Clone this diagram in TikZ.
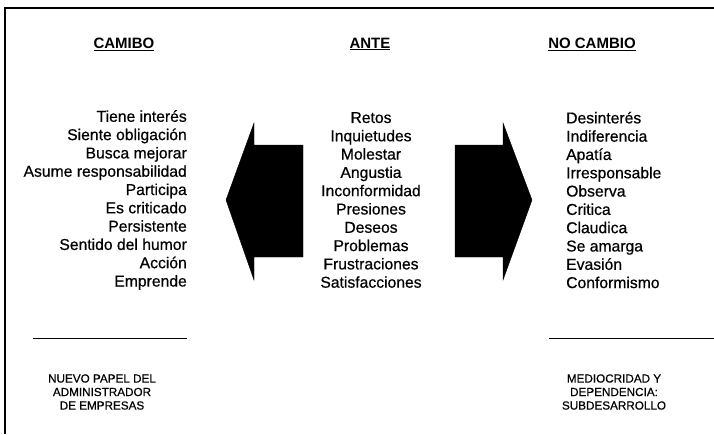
\documentclass[tikz,border=0pt]{standalone}
\usepackage{fontspec}
\setmainfont{Liberation Sans}
\newfontfamily\heavy{Liberation Sans}[FakeBold=0.6]
\begin{document}
\begin{tikzpicture}[x=1pt,y=-1pt,
  hdr/.style={font=\fontsize{15}{17}\selectfont\bfseries, inner sep=0pt},
  lst/.style={font=\heavy\fontsize{15.7}{18.3}\selectfont, inner sep=0pt},
  foot/.style={font=\heavy\fontsize{11.7}{13.5}\selectfont, align=center, inner sep=0pt},
  arr/.style={fill=black, draw=black},
  frame/.style={line width=1.2pt},
  rule/.style={line width=1pt}]
\useasboundingbox (0,0) rectangle (714,434);
% frame
\draw[frame] (714,8) -- (5,8) -- (5,434);
% headers
\node[hdr] (h1) at (124,44) {\underline{CAMIBO}};
\node[hdr] (h2) at (370,44) {\underline{ANTE}};
\node[hdr] (h3) at (592,44) {\underline{NO CAMBIO}};
% lists
\node[lst, align=right, anchor=east] (l1) at (187,200) {Tiene interés\\Siente obligación\\Busca mejorar\\Asume responsabilidad\\Participa\\Es criticado\\Persistente\\Sentido del humor\\Acción\\Emprende};
\node[lst, align=center] (l2) at (371,200) {Retos\\Inquietudes\\Molestar\\Angustia\\Inconformidad\\Presiones\\Deseos\\Problemas\\Frustraciones\\Satisfacciones};
\node[lst, align=left, anchor=west] (l3) at (566,200) {Desinterés\\Indiferencia\\Apatía\\Irresponsable\\Observa\\Critica\\Claudica\\Se amarga\\Evasión\\Conformismo};
% arrows
\fill[arr] (226,200) -- (254,123) -- (254,145) -- (303,145) -- (303,257) -- (254,257) -- (254,280) -- cycle;
\fill[arr] (532,200) -- (503,123) -- (503,145) -- (455,145) -- (455,257) -- (503,257) -- (503,280) -- cycle;
% bottom rules
\draw[rule] (33,338) -- (187,338);
\draw[rule] (549,338) -- (714,338);
% footers
\node[foot] (f1) at (102,392) {NUEVO PAPEL DEL\\ADMINISTRADOR\\DE EMPRESAS};
\node[foot] (f2) at (614,392) {MEDIOCRIDAD Y\\DEPENDENCIA:\\SUBDESARROLLO};
\end{tikzpicture}
\end{document}
